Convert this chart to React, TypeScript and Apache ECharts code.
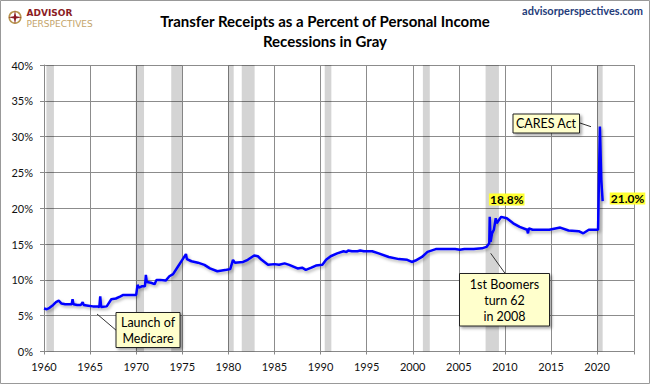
import React, { useEffect, useRef } from "react";
import * as echarts from "echarts";

// Decimal year of each reading
const years = [
  1960.0, 1960.3, 1960.6, 1961.0, 1961.3, 1961.6, 1961.9, 1962.3, 1962.8, 1963.0,
  1963.1, 1963.2, 1963.6, 1964.0, 1964.2, 1964.3, 1964.8, 1965.3, 1965.8, 1966.0,
  1966.1, 1966.2, 1966.8, 1967.3, 1967.8, 1968.3, 1968.6, 1969.5, 1970.0, 1970.15,
  1970.3, 1970.6, 1970.95, 1971.05, 1971.15, 1971.6, 1972.0, 1972.2, 1972.6, 1973.2,
  1973.6, 1974.0, 1974.5, 1975.0, 1975.4, 1975.5, 1976.0, 1976.7, 1977.4, 1978.0,
  1978.8, 1979.3, 1979.8, 1980.2, 1980.5, 1980.7, 1981.6, 1982.1, 1982.8, 1983.2,
  1983.6, 1984.3, 1985.0, 1985.5, 1986.1, 1986.6, 1987.5, 1988.0, 1988.4, 1989.0,
  1989.5, 1990.2, 1990.6, 1991.1, 1991.8, 1992.5, 1992.8, 1993.0, 1993.4, 1994.0,
  1994.3, 1994.7, 1995.6, 1996.3, 1997.4, 1998.5, 1999.4, 1999.9, 2000.3, 2001.0,
  2001.6, 2002.5, 2003.6, 2004.6, 2005.1, 2005.6, 2006.6, 2007.5, 2008.0, 2008.3,
  2008.35, 2008.45, 2008.6, 2008.8, 2009.0, 2009.1, 2009.6, 2010.2, 2010.9, 2011.6,
  2012.4, 2012.5, 2012.6, 2013.0, 2013.7, 2014.8, 2016.0, 2016.9, 2018.0, 2018.5,
  2019.1, 2019.6, 2020.1, 2020.3, 2020.45, 2020.6,
];
// Transfer receipts as % of personal income
const pct = [
  6.0, 5.9, 6.1, 6.5, 6.9, 7.1, 6.7, 6.6, 6.6, 6.6,
  7.3, 6.6, 6.5, 6.5, 6.9, 6.5, 6.4, 6.3, 6.3, 6.2,
  7.7, 6.2, 6.3, 7.3, 7.4, 7.7, 7.9, 7.9, 7.9, 9.3,
  8.9, 9.1, 9.1, 10.7, 9.7, 9.6, 9.4, 10.0, 10.0, 9.9,
  10.5, 10.8, 11.8, 12.8, 13.6, 12.9, 12.6, 12.4, 12.1, 11.6,
  11.2, 11.3, 11.4, 11.5, 12.8, 12.4, 12.5, 12.8, 13.4, 13.3,
  12.8, 12.1, 12.2, 12.1, 12.3, 12.1, 11.6, 11.7, 11.4, 11.7,
  12.0, 12.1, 12.8, 13.3, 13.7, 14.0, 13.9, 14.1, 14.0, 14.0,
  14.1, 14.0, 14.0, 13.7, 13.2, 12.9, 12.8, 12.5, 12.7, 13.2,
  13.9, 14.3, 14.3, 14.3, 14.2, 14.3, 14.3, 14.4, 14.6, 15.1,
  18.8, 15.3, 16.5, 17.0, 18.6, 17.9, 18.8, 18.6, 17.9, 17.4,
  17.0, 16.5, 17.2, 17.0, 17.0, 17.0, 17.3, 16.9, 16.8, 16.5,
  17.0, 17.0, 17.0, 31.4, 24.0, 21.0,
];
const recessionStart = [1960.26, 1969.95, 1973.8, 1979.97, 1981.45, 1990.45, 2001.1, 2007.9, 2020.0];
const recessionEnd = [1961.08, 1970.85, 1975.0, 1980.58, 1982.85, 1991.17, 2001.85, 2009.35, 2020.6];

const titleLines = ["Transfer Receipts as a Percent of Personal Income", "Recessions in Gray"];
const peakLabel = "18.8%";
const lastLabel = "21.0%";

const FONT = "Lato, 'Liberation Sans', sans-serif";
const LOGO_FONT = "'DejaVu Sans', sans-serif";

export default function App() {
  const ref = useRef<HTMLDivElement>(null);
  useEffect(() => {
    if (!ref.current) return;
    const chart = echarts.init(ref.current, undefined, { renderer: "svg" });
    const lineData = years.map((y, i) => [y, pct[i]]);
    const boxStyle = {
      fill: "#FFFFCC",
      stroke: "#222",
      lineWidth: 1,
      shadowBlur: 3,
      shadowOffsetX: 2,
      shadowOffsetY: 2,
      shadowColor: "rgba(0,0,0,0.35)",
    };
    const noteText = (x: number, y: number, text: string) => ({
      type: "text",
      x,
      y,
      style: {
        text,
        fill: "#000",
        font: `12.5px ${FONT}`,
        align: "center",
        verticalAlign: "middle",
        lineHeight: 16,
      },
    });
    chart.setOption({
      animation: false,
      backgroundColor: "#fff",
      textStyle: { fontFamily: FONT },
      grid: { left: 44, right: 16, top: 65, bottom: 32.5, containLabel: false },
      xAxis: {
        type: "value",
        min: 1960,
        max: 2024,
        interval: 5,
        axisLine: { show: true, lineStyle: { color: "#888", width: 1 } },
        axisTick: { show: true, length: 3, lineStyle: { color: "#888" } },
        axisLabel: {
          color: "#111",
          fontSize: 11,
          margin: 9,
          formatter: (v: number) => (v % 5 === 0 && v <= 2020 ? String(v) : ""),
        },
        splitLine: { show: true, lineStyle: { color: "#8c8c8c", width: 1 } },
      },
      yAxis: {
        type: "value",
        min: 0,
        max: 40,
        interval: 5,
        axisLine: { show: true, lineStyle: { color: "#888", width: 1 } },
        axisTick: { show: true, length: 4, lineStyle: { color: "#888" } },
        axisLabel: { color: "#111", fontSize: 11, margin: 11, formatter: "{value}%" },
        splitLine: { show: true, lineStyle: { color: "#8c8c8c", width: 1 } },
      },
      series: [
        {
          type: "line",
          data: [],
          z: 1,
          silent: true,
          markArea: {
            silent: true,
            itemStyle: { color: "rgba(0,0,0,0.17)" },
            data: recessionStart.map((s, i) => [{ xAxis: s }, { xAxis: recessionEnd[i] }]),
          },
        },
        {
          type: "line",
          data: lineData,
          z: 3,
          showSymbol: false,
          symbol: "none",
          lineStyle: {
            color: "#0000FF",
            width: 2.5,
            shadowColor: "rgba(0,0,0,0.3)",
            shadowBlur: 3,
            shadowOffsetX: 1.5,
            shadowOffsetY: 2,
          },
        },
      ],
      graphic: [
        { type: "rect", z: 100, shape: { x: 0.5, y: 0.5, width: 649, height: 383 }, style: { fill: "none", stroke: "#999", lineWidth: 1 } },
        // Logo
        { type: "circle", z: 100, shape: { cx: 15, cy: 17.3, r: 5.8 }, style: { fill: "none", stroke: "#B8964E", lineWidth: 1.6 } },
        {
          type: "polygon",
          z: 101,
          shape: {
            points: [
              [15, 10.5], [16.1, 16.2], [21.8, 17.3], [16.1, 18.4], [15, 24.1], [13.9, 18.4], [8.2, 17.3], [13.9, 16.2],
            ],
          },
          style: { fill: "#8B1C24" },
        },
        { type: "text", z: 100, x: 26.5, y: 12.6, style: { text: "ADVISOR", fill: "#8B1C24", font: `bold 9px ${LOGO_FONT}`, verticalAlign: "middle" } },
        { type: "text", z: 100, x: 26.5, y: 23.6, style: { text: "PERSPECTIVES", fill: "#C4A46A", font: `9px ${LOGO_FONT}`, verticalAlign: "middle" } },
        // Site
        { type: "text", z: 100, x: 643, y: 10.7, style: { text: "advisorperspectives.com", fill: "#1F3C7A", font: `bold 11px ${FONT}`, align: "right", verticalAlign: "middle" } },
        // Titles
        { type: "text", z: 100, x: 325, y: 20.7, style: { text: titleLines[0], fill: "#000", font: `bold 15px ${FONT}`, align: "center", verticalAlign: "middle" } },
        { type: "text", z: 100, x: 325, y: 40.7, style: { text: titleLines[1], fill: "#000", font: `bold 15px ${FONT}`, align: "center", verticalAlign: "middle" } },
        // Medicare note
        { type: "line", z: 100, shape: { x1: 97, y1: 314, x2: 117, y2: 331 }, style: { stroke: "#333", lineWidth: 1 } },
        { type: "rect", z: 100, shape: { x: 116, y: 312.5, width: 64, height: 35 }, style: boxStyle },
        { ...noteText(148, 330, "Launch of\nMedicare"), z: 101 },
        // Boomers note
        { type: "line", z: 100, shape: { x1: 490.7, y1: 253.3, x2: 505, y2: 273.3 }, style: { stroke: "#333", lineWidth: 1 } },
        { type: "rect", z: 100, shape: { x: 459.5, y: 273.5, width: 90, height: 52.5 }, style: boxStyle },
        { ...noteText(504.5, 300, "1st Boomers\nturn 62\nin 2008"), z: 101 },
        // CARES note
        { type: "line", z: 100, shape: { x1: 579, y1: 122.7, x2: 591, y2: 126.7 }, style: { stroke: "#333", lineWidth: 1 } },
        { type: "rect", z: 100, shape: { x: 513, y: 114, width: 66.5, height: 19 }, style: boxStyle },
        { ...noteText(546, 123.7, "CARES Act"), z: 101 },
        // Value labels
        {
          type: "text", z: 101, x: 506.7, y: 199.5,
          style: { text: peakLabel, fill: "#000", font: `bold 12px ${FONT}`, align: "center", verticalAlign: "middle", backgroundColor: "#FFFF33", padding: [0, 1] },
        },
        {
          type: "text", z: 101, x: 627.5, y: 198.5,
          style: { text: lastLabel, fill: "#000", font: `bold 12px ${FONT}`, align: "center", verticalAlign: "middle", backgroundColor: "#FFFF33", padding: [0, 1] },
        },
      ],
    });
    return () => chart.dispose();
  }, []);
  return <div ref={ref} style={{ position: "fixed", left: 0, top: 0, width: 650, height: 384 }} />;
}
